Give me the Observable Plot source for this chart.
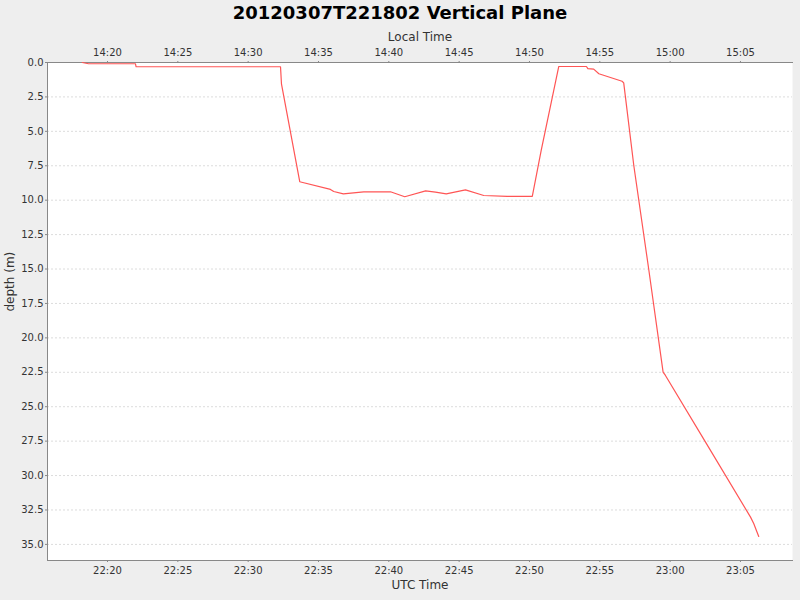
<!DOCTYPE html>
<html>
<head>
<meta charset="utf-8">
<script src="https://cdn.jsdelivr.net/npm/d3@7"></script>
<script src="https://cdn.jsdelivr.net/npm/@observablehq/plot@0.6"></script>
<style>
  html, body { margin: 0; padding: 0; background: #eeeeee; width: 800px; height: 600px; overflow: hidden; }
  #title { height: 26px; line-height: 26px; text-align: center; font-family: "DejaVu Sans", sans-serif; font-weight: bold; font-size: 18px; color: #000; }
  #chart svg { display: block; }
</style>
</head>
<body>
<div id="title">20120307T221802 Vertical Plane</div>
<div id="chart"></div>
<script>
// UTC times (HH:MM:SS on 2012-03-07) and depths (m)
const times = ["22:18:12","22:18:39","22:21:59","22:22:02","22:32:18","22:32:22","22:33:40","22:35:51","22:36:05","22:36:46","22:38:13","22:40:07","22:41:08","22:42:37","22:43:19","22:44:05","22:45:27","22:46:45","22:48:25","22:50:12","22:50:50","22:52:05","22:54:03","22:54:09","22:54:34","22:54:56","22:56:35","22:56:42","22:57:25","22:58:29","22:59:30","22:59:40","23:02:31","23:05:43","23:05:57","23:06:08","23:06:18"];
const depths = [0.0,0.09,0.09,0.31,0.31,1.55,8.66,9.22,9.37,9.54,9.39,9.39,9.75,9.32,9.41,9.54,9.25,9.66,9.73,9.73,6.39,0.29,0.29,0.44,0.48,0.82,1.36,1.48,7.48,15.05,22.49,22.73,27.57,33.02,33.50,33.99,34.42];
const xTickLabels = ["22:20","22:25","22:30","22:35","22:40","22:45","22:50","22:55","23:00","23:05"];
const yTicks = [0,2.5,5,7.5,10,12.5,15,17.5,20,22.5,25,27.5,30,32.5,35];
const xDomain = ["22:15:44","23:08:42"];
const yDomain = [0, 36.17];
const localOffsetHours = -8;

const toDate = s => { const [h,m,sec] = s.split(":").map(Number); return new Date(Date.UTC(2012,2,7,h,m,sec||0)); };
const data = times.map((t,i) => ({t: toDate(t), d: depths[i]}));
const xTicks = xTickLabels.map(toDate);
const pad = n => String(n).padStart(2,"0");
const fmtUTC = d => pad(d.getUTCHours()) + ":" + pad(d.getUTCMinutes());
const fmtLocal = d => { const l = new Date(d.getTime() + localOffsetHours*3600e3); return pad(l.getUTCHours()) + ":" + pad(l.getUTCMinutes()); };

const chart = Plot.plot({
  width: 800,
  height: 574,
  marginTop: 36,
  marginBottom: 40,
  marginLeft: 47,
  marginRight: 8,
  style: {background: "transparent", fontFamily: "DejaVu Sans, sans-serif", fontSize: "10px", color: "#333"},
  x: {type: "utc", domain: xDomain.map(toDate)},
  y: {domain: yDomain, reverse: true},
  marks: [
    Plot.frame({fill: "white", stroke: null}),
    Plot.gridY(yTicks, {stroke: "#dcdcdc", strokeOpacity: 1, strokeDasharray: "2,2"}),
    Plot.frame({anchor: "left", stroke: "#888"}),
    Plot.frame({anchor: "top", stroke: "#888"}),
    Plot.frame({anchor: "bottom", stroke: "#888"}),
    Plot.line(data, {x: "t", y: "d", stroke: "#ff5555", strokeWidth: 1.2}),
    Plot.axisY({ticks: yTicks, tickFormat: d => d.toFixed(1), label: null, tickSize: 2, tickPadding: 2, stroke: "#888", fill: "#333"}),
    Plot.axisX({anchor: "bottom", ticks: xTicks, tickFormat: fmtUTC, label: null, tickSize: 2, tickPadding: 4, stroke: "#888", fill: "#333"}),
    Plot.axisX({anchor: "top", ticks: xTicks, tickFormat: fmtLocal, label: null, tickSize: 2, tickPadding: 5, stroke: "#888", fill: "#333"}),
    Plot.text(["depth (m)"], {frameAnchor: "left", dx: -37, rotate: -90, fontSize: 12, fill: "#333", lineAnchor: "middle"}),
    Plot.text(["UTC Time"], {frameAnchor: "bottom", dy: 25, fontSize: 12, fill: "#333", lineAnchor: "middle"}),
    Plot.text(["Local Time"], {frameAnchor: "top", dy: -25, fontSize: 12, fill: "#333", lineAnchor: "middle"})
  ]
});
document.getElementById("chart").appendChild(chart);
</script>
</body>
</html>
